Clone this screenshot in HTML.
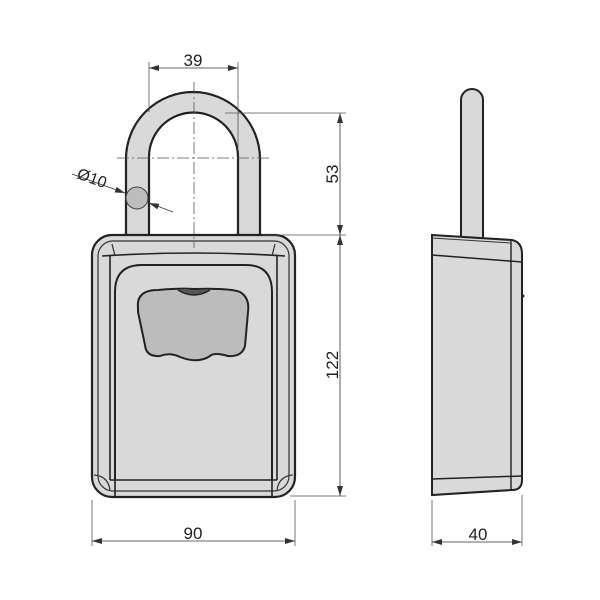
<!DOCTYPE html>
<html><head><style>html,body{margin:0;padding:0;background:#fff}svg{display:block}</style></head>
<body>
<svg width="600" height="600" viewBox="0 0 600 600" xmlns="http://www.w3.org/2000/svg" font-family="Liberation Sans Narrow, Liberation Sans, sans-serif">
<defs>
<marker id="a" viewBox="0 0 10 6" refX="10" refY="3" markerWidth="10" markerHeight="6" orient="auto-start-reverse" markerUnits="userSpaceOnUse"><path d="M0,0 L10,3 L0,6 z" fill="#333"/></marker>
</defs>
<path d="M126,240 L126,159 A67,67 0 0 1 260,159 L260,240 L238,240 L238,157 A44.5,44.5 0 0 0 149,157 L149,240 Z" fill="#d9d9d9" stroke="#222" stroke-width="2.2"/>
<circle cx="137" cy="198" r="11" fill="#bdbdbd" stroke="#444" stroke-width="1"/>
<rect x="92" y="235" width="203" height="262" rx="20" fill="#d9d9d9" stroke="#222" stroke-width="2.2"/>
<rect x="98" y="241" width="191" height="250" rx="15" fill="none" stroke="#333" stroke-width="1.2"/>
<path d="M102,256 Q194,250 285,256" fill="none" stroke="#222" stroke-width="1.6"/>
<line x1="112" y1="244" x2="115" y2="256" stroke="#333" stroke-width="1.2"/>
<line x1="275" y1="244" x2="272" y2="256" stroke="#333" stroke-width="1.2"/>
<line x1="110" y1="256" x2="110" y2="480" stroke="#222" stroke-width="1.6"/>
<line x1="277" y1="256" x2="277" y2="480" stroke="#222" stroke-width="1.6"/>
<path d="M115,480 L115,292 Q115,265 142,265 L246,265 Q272,265 272,292 L272,480" fill="none" stroke="#222" stroke-width="2"/>
<line x1="110" y1="480" x2="277" y2="480" stroke="#222" stroke-width="1.6"/>
<line x1="115" y1="480" x2="115" y2="496" stroke="#222" stroke-width="1.6"/>
<line x1="272" y1="480" x2="272" y2="496" stroke="#222" stroke-width="1.6"/>
<path d="M94,475 Q108,476 110,490" fill="none" stroke="#333" stroke-width="1.2"/>
<path d="M293,475 Q279,476 277,490" fill="none" stroke="#333" stroke-width="1.2"/>
<path d="M138,308 Q136,290 158,290 Q180,288 194,289 Q230,288 240,292 Q250,298 248,312 L245,346 Q242,357 228,356 Q214,352 210,356 Q198,364 180,357 Q170,352 160,356 Q146,357 145,345 L138,312 Z" fill="#bcbcbc" stroke="#222" stroke-width="2"/>
<path d="M178,290 Q194,300 210,290" fill="#555" stroke="#222" stroke-width="1.5"/>
<line x1="194" y1="82" x2="194" y2="248" stroke="#555" stroke-width="0.8" stroke-dasharray="12,3,2,3"/>
<line x1="117" y1="158" x2="270" y2="158" stroke="#555" stroke-width="0.8" stroke-dasharray="12,3,2,3"/>
<line x1="149" y1="62" x2="149" y2="112" stroke="#555" stroke-width="0.8"/>
<line x1="238" y1="62" x2="238" y2="150" stroke="#555" stroke-width="0.8"/>
<line x1="149" y1="68" x2="238" y2="68" stroke="#333" stroke-width="0.8" marker-start="url(#a)" marker-end="url(#a)"/>
<text x="193" y="66" font-size="17" text-anchor="middle" fill="#222">39</text>
<line x1="72" y1="174" x2="125" y2="193" stroke="#333" stroke-width="0.8" marker-end="url(#a)"/>
<line x1="173" y1="212" x2="149" y2="203" stroke="#333" stroke-width="0.8" marker-end="url(#a)"/>
<text x="76" y="178" font-size="16" fill="#222" transform="rotate(20 76 178)">Ø10</text>
<line x1="225" y1="113" x2="346" y2="113" stroke="#555" stroke-width="0.8"/>
<line x1="262" y1="235" x2="346" y2="235" stroke="#555" stroke-width="0.8"/>
<line x1="290" y1="496" x2="346" y2="496" stroke="#555" stroke-width="0.8"/>
<line x1="340" y1="113" x2="340" y2="235" stroke="#333" stroke-width="0.8" marker-start="url(#a)" marker-end="url(#a)"/>
<line x1="340" y1="235" x2="340" y2="496" stroke="#333" stroke-width="0.8" marker-start="url(#a)" marker-end="url(#a)"/>
<text x="0" y="0" font-size="17" text-anchor="middle" fill="#222" transform="translate(338 174) rotate(-90)">53</text>
<text x="0" y="0" font-size="17" text-anchor="middle" fill="#222" transform="translate(338 365) rotate(-90)">122</text>
<line x1="92" y1="500" x2="92" y2="546" stroke="#555" stroke-width="0.8"/>
<line x1="295" y1="500" x2="295" y2="546" stroke="#555" stroke-width="0.8"/>
<line x1="92" y1="541" x2="295" y2="541" stroke="#333" stroke-width="0.8" marker-start="url(#a)" marker-end="url(#a)"/>
<text x="193" y="539" font-size="17" text-anchor="middle" fill="#222">90</text>
<path d="M461,240 L461,100 A11,11 0 0 1 483,100 L483,240 Z" fill="#d9d9d9" stroke="#222" stroke-width="2"/>
<path d="M432,235 L512,240 Q522,242 522,254 L522,480 Q522,490 512,490 L432,495 Z" fill="#d9d9d9" stroke="#222" stroke-width="2"/>
<line x1="432" y1="255" x2="522" y2="262" stroke="#222" stroke-width="1.5"/>
<line x1="432" y1="479" x2="522" y2="476" stroke="#222" stroke-width="1.5"/>
<line x1="432" y1="238" x2="510" y2="243" stroke="#333" stroke-width="1"/>
<line x1="511" y1="241" x2="511" y2="490" stroke="#222" stroke-width="1.4"/>
<circle cx="523" cy="296" r="1.5" fill="#222"/>
<line x1="432" y1="500" x2="432" y2="546" stroke="#555" stroke-width="0.8"/>
<line x1="522" y1="495" x2="522" y2="546" stroke="#555" stroke-width="0.8"/>
<line x1="432" y1="542" x2="522" y2="542" stroke="#333" stroke-width="0.8" marker-start="url(#a)" marker-end="url(#a)"/>
<text x="478" y="540" font-size="17" text-anchor="middle" fill="#222">40</text>
</svg>
</body></html>
